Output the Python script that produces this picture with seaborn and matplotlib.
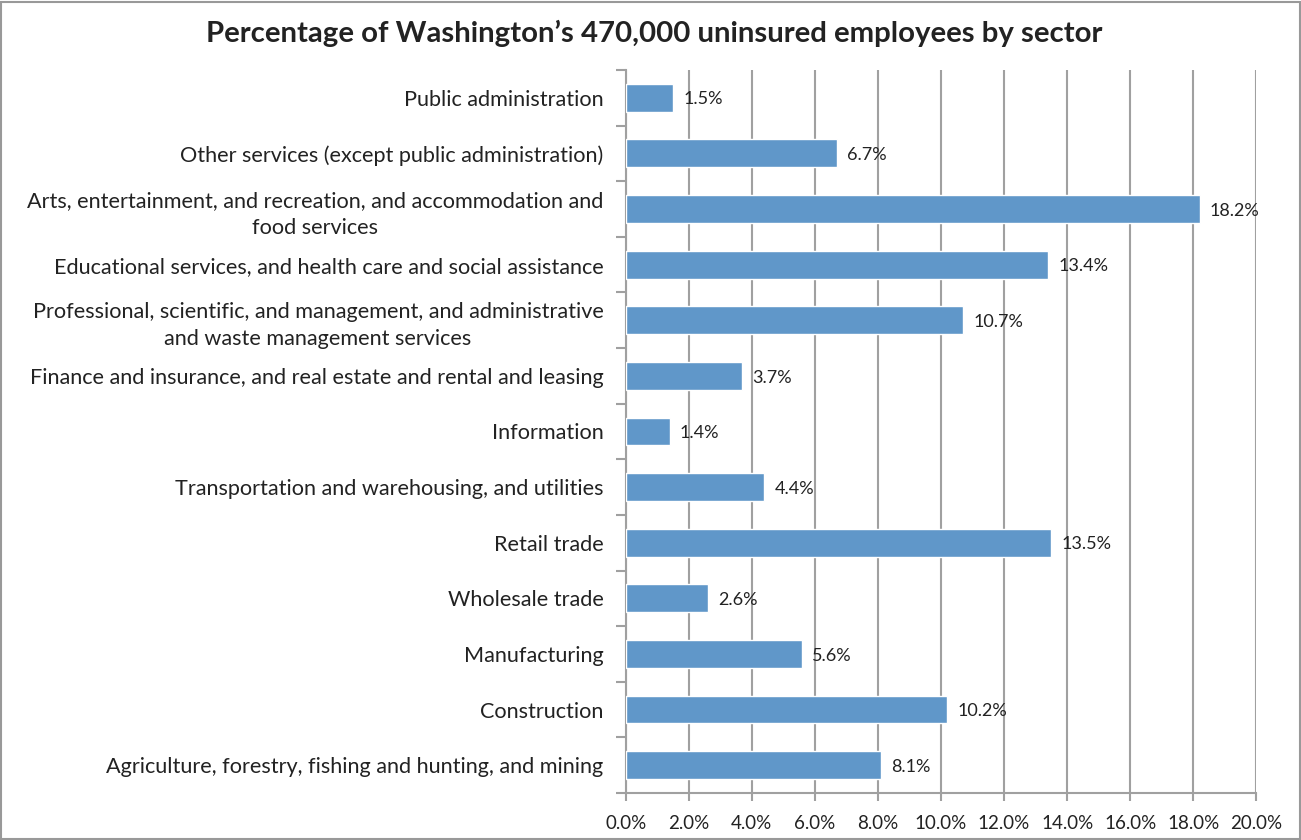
import matplotlib
matplotlib.use("Agg")
import matplotlib.pyplot as plt
import seaborn as sns
import pandas as pd
import numpy as np
from matplotlib.ticker import FixedLocator
from matplotlib.patches import Rectangle

sectors = [
    "Public administration",
    "Other services (except public administration)",
    "Arts, entertainment, and recreation, and accommodation and\nfood services",
    "Educational services, and health care and social assistance",
    "Professional, scientific, and management, and administrative\nand waste management services",
    "Finance and insurance, and real estate and rental and leasing",
    "Information",
    "Transportation and warehousing, and utilities",
    "Retail trade",
    "Wholesale trade",
    "Manufacturing",
    "Construction",
    "Agriculture, forestry, fishing and hunting, and mining",
]
shares = [1.5, 6.7, 18.2, 13.4, 10.7, 3.7, 1.4, 4.4, 13.5, 2.6, 5.6, 10.2, 8.1]
x_ticks = [0, 2, 4, 6, 8, 10, 12, 14, 16, 18, 20]

df = pd.DataFrame({"sector": sectors, "share": shares})

sns.set_theme(style="white")
plt.rcParams["font.family"] = ["Lato", "DejaVu Sans"]

fig = plt.figure(figsize=(13.01, 8.4), dpi=100)
ax = fig.add_axes([0.481, 0.056, 0.4846, 0.8607])

sns.barplot(data=df, x="share", y="sector", order=sectors, orient="h",
            color="#6097C9", saturation=1, width=0.5, ax=ax, zorder=3)

ax.set_xlim(0, 20)
ax.set_ylim(len(sectors) - 0.5, -0.5)
ax.xaxis.set_major_locator(FixedLocator(x_ticks))
ax.set_xticklabels([f"{v:.1f}%" for v in x_ticks], fontsize=13.5, color="#222222")
ax.grid(axis="x", color="#A0A0A0", linewidth=1.5, zorder=0)
ax.set_axisbelow(True)

# category labels with no major tick marks; small marks at category boundaries
ax.tick_params(axis="y", which="major", length=0, pad=16, labelsize=15.6, labelcolor="#222222")
for lbl in ax.get_yticklabels():
    lbl.set_multialignment("center")
    lbl.set_linespacing(1.45)
ax.yaxis.set_minor_locator(FixedLocator(np.arange(-0.5, len(sectors), 1.0)))
ax.tick_params(axis="y", which="minor", length=7, width=1.5, color="#A0A0A0", left=True)
ax.tick_params(axis="x", which="major", length=6, width=1.5, color="#A0A0A0", pad=10, bottom=True)

for side in ["top", "right"]:
    ax.spines[side].set_visible(False)
for side in ["left", "bottom"]:
    ax.spines[side].set_color("#A0A0A0")
    ax.spines[side].set_linewidth(1.5)

ax.set_xlabel("")
ax.set_ylabel("")

for i, v in enumerate(shares):
    ax.text(v + 0.32, i + 0.03, f"{v}%", va="center", ha="left", fontsize=13, color="#222222")

fig.text(0.503, 0.96, "Percentage of Washington\u2019s 470,000 uninsured employees by sector",
         ha="center", va="center", fontsize=21.2, fontweight="bold", color="#222222")

fig.patches.append(Rectangle((0.001, 0.001), 0.998, 0.997, transform=fig.transFigure,
                             fill=False, edgecolor="#999999", linewidth=1.5))

fig.savefig("out.png", dpi=100)
